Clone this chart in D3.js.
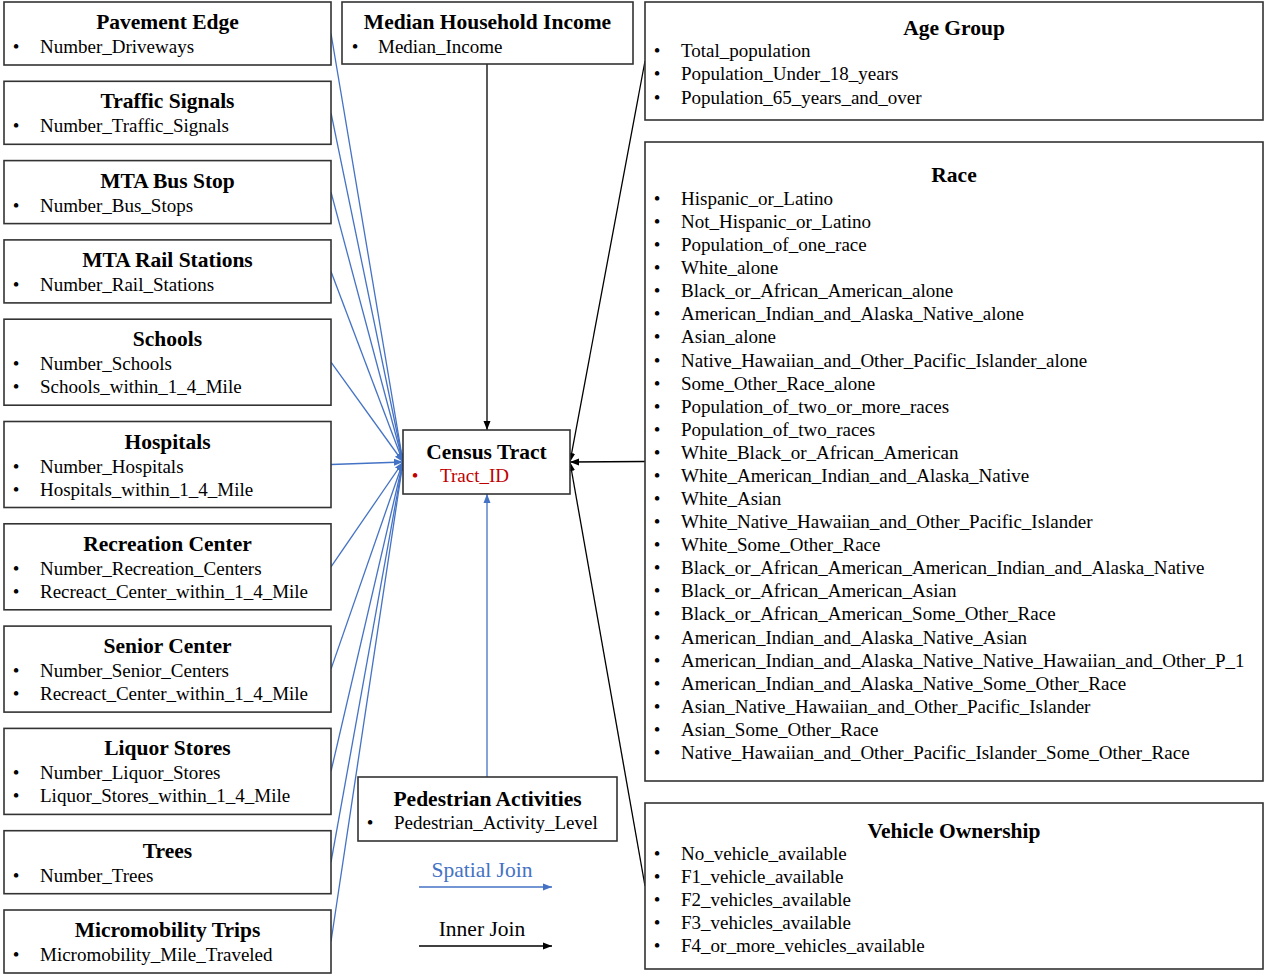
<!DOCTYPE html>
<html>
<head>
<meta charset="utf-8">
<script src="https://cdn.jsdelivr.net/npm/d3@7"></script>
<style>
	body { margin: 0; background: #fff; }
	svg { display: block; font-family: "Liberation Serif", "Times New Roman", serif; }
</style>
</head>
<body>
<svg id="chart" width="1265" height="978"></svg>
<script>
// Source tables joined to the census tract
var leftSources = [
	{ title: "Pavement Edge", fields: ["Number_Driveways"] },
	{ title: "Traffic Signals", fields: ["Number_Traffic_Signals"] },
	{ title: "MTA Bus Stop", fields: ["Number_Bus_Stops"] },
	{ title: "MTA Rail Stations", fields: ["Number_Rail_Stations"] },
	{ title: "Schools", fields: ["Number_Schools", "Schools_within_1_4_Mile"] },
	{ title: "Hospitals", fields: ["Number_Hospitals", "Hospitals_within_1_4_Mile"] },
	{ title: "Recreation Center", fields: ["Number_Recreation_Centers", "Recreact_Center_within_1_4_Mile"] },
	{ title: "Senior Center", fields: ["Number_Senior_Centers", "Recreact_Center_within_1_4_Mile"] },
	{ title: "Liquor Stores", fields: ["Number_Liquor_Stores", "Liquor_Stores_within_1_4_Mile"] },
	{ title: "Trees", fields: ["Number_Trees"] },
	{ title: "Micromobility Trips", fields: ["Micromobility_Mile_Traveled"] }
];

var topSource = { title: "Median Household Income", fields: ["Median_Income"] };
var bottomSource = { title: "Pedestrian Activities", fields: ["Pedestrian_Activity_Level"] };
var centerTable = { title: "Census Tract", fields: ["Tract_ID"] };

var ageFields = ["Total_population", "Population_Under_18_years", "Population_65_years_and_over"];

var raceFields = [
	"Hispanic_or_Latino",
	"Not_Hispanic_or_Latino",
	"Population_of_one_race",
	"White_alone",
	"Black_or_African_American_alone",
	"American_Indian_and_Alaska_Native_alone",
	"Asian_alone",
	"Native_Hawaiian_and_Other_Pacific_Islander_alone",
	"Some_Other_Race_alone",
	"Population_of_two_or_more_races",
	"Population_of_two_races",
	"White_Black_or_African_American",
	"White_American_Indian_and_Alaska_Native",
	"White_Asian",
	"White_Native_Hawaiian_and_Other_Pacific_Islander",
	"White_Some_Other_Race",
	"Black_or_African_American_American_Indian_and_Alaska_Native",
	"Black_or_African_American_Asian",
	"Black_or_African_American_Some_Other_Race",
	"American_Indian_and_Alaska_Native_Asian",
	"American_Indian_and_Alaska_Native_Native_Hawaiian_and_Other_P_1",
	"American_Indian_and_Alaska_Native_Some_Other_Race",
	"Asian_Native_Hawaiian_and_Other_Pacific_Islander",
	"Asian_Some_Other_Race",
	"Native_Hawaiian_and_Other_Pacific_Islander_Some_Other_Race"
];

var vehicleFields = [
	"No_vehicle_available",
	"F1_vehicle_available",
	"F2_vehicles_available",
	"F3_vehicles_available",
	"F4_or_more_vehicles_available"
];

var rightSources = [
	{ title: "Age Group", fields: ageFields },
	{ title: "Race", fields: raceFields },
	{ title: "Vehicle Ownership", fields: vehicleFields }
];

var joinTypes = ["Spatial Join", "Inner Join"];

var BLUE = "#4472c4",
	BLACK = "#000",
	RED = "#c00000",
	BORDER = "#333";

var TITLE_SIZE = 21.5,
	ITEM_SIZE = 19;

var svg = d3.select("#chart");

// Arrow markers
var defs = svg.append("defs");
[["arrow-blue", BLUE], ["arrow-black", BLACK]].forEach(function(m) {
	defs.append("marker")
		.attr("id", m[0])
		.attr("viewBox", "0 -4 9 8")
		.attr("refX", 9)
		.attr("refY", 0)
		.attr("markerUnits", "userSpaceOnUse")
		.attr("markerWidth", 9)
		.attr("markerHeight", 8)
		.attr("orient", "auto")
		.append("path")
		.attr("d", "M0,-3.5L9,0L0,3.5Z")
		.attr("fill", m[1]);
});

var line = d3.line();

// Generic box: border, centred bold title and a bullet list
function drawBox(g, box, o) {
	var grp = g.append("g").attr("transform", "translate(" + box.x + "," + box.y + ")");
	grp.append("rect")
		.attr("width", box.w)
		.attr("height", box.h)
		.attr("fill", "#fff")
		.attr("stroke", BORDER)
		.attr("stroke-width", 1.6);
	grp.append("text")
		.attr("x", box.w / 2)
		.attr("y", o.titleDy)
		.attr("text-anchor", "middle")
		.attr("font-size", TITLE_SIZE)
		.attr("font-weight", "bold")
		.text(box.title);
	var rows = grp.selectAll("g.item")
		.data(box.fields)
		.enter()
		.append("g")
		.attr("class", "item")
		.attr("transform", function(d, i) { return "translate(0," + (o.itemDy + i * o.step) + ")"; })
		.attr("fill", o.color || BLACK);
	rows.append("text")
		.attr("x", o.bulletX)
		.attr("text-anchor", "middle")
		.attr("font-size", ITEM_SIZE)
		.text("\u2022");
	rows.append("text")
		.attr("x", o.textX)
		.attr("font-size", ITEM_SIZE)
		.text(function(d) { return d; });
	return grp;
}

var gLinks = svg.append("g").attr("class", "links");
var gBoxes = svg.append("g").attr("class", "boxes");

// Left column: stacked boxes, heights from the number of fields
var leftX = 4, leftW = 327;
var heights = leftSources.map(function(d) { return 40 + 23 * d.fields.length; });
var gap = (973 - 2 - d3.sum(heights)) / (leftSources.length - 1);
var tops = [2];
heights.forEach(function(h, i) { if (i > 0) tops.push(tops[i - 1] + heights[i - 1] + gap); });

var center = { x: 403, y: 430, w: 167, h: 64 };
var centerLeft = [center.x, center.y + center.h / 2];
var centerRight = [center.x + center.w, center.y + center.h / 2];

leftSources.forEach(function(d, i) {
	var box = { x: leftX, y: tops[i], w: leftW, h: heights[i], title: d.title, fields: d.fields };
	drawBox(gBoxes, box, { titleDy: 27, itemDy: 51, step: 23, bulletX: 12, textX: 36 });
	gLinks.append("path")
		.attr("d", line([[box.x + box.w, box.y + box.h / 2], centerLeft]))
		.attr("fill", "none")
		.attr("stroke", BLUE)
		.attr("stroke-width", 1.3)
		.attr("marker-end", "url(#arrow-blue)");
});

// Median income (top) and pedestrian activities (bottom)
var topBox = Object.assign({ x: 342, y: 2, w: 291, h: 62 }, topSource);
drawBox(gBoxes, topBox, { titleDy: 27, itemDy: 51, step: 23, bulletX: 13, textX: 36 });
gLinks.append("path")
	.attr("d", line([[487, topBox.y + topBox.h], [487, center.y]]))
	.attr("stroke", BLACK)
	.attr("stroke-width", 1.3)
	.attr("marker-end", "url(#arrow-black)");

var bottomBox = Object.assign({ x: 358, y: 777, w: 259, h: 64 }, bottomSource);
drawBox(gBoxes, bottomBox, { titleDy: 29, itemDy: 52, step: 23, bulletX: 12, textX: 36 });
gLinks.append("path")
	.attr("d", line([[487, bottomBox.y], [487, center.y + center.h]]))
	.attr("stroke", BLUE)
	.attr("stroke-width", 1.3)
	.attr("marker-end", "url(#arrow-blue)");

// Right column: census tables
var rightLayout = [
	{ y: 2, h: 118, titleDy: 33, itemDy: 55, step: 23.3 },
	{ y: 142, h: 639, titleDy: 40, itemDy: 63, step: 23.08 },
	{ y: 803, h: 166, titleDy: 35, itemDy: 57, step: 23 }
];

rightSources.forEach(function(d, i) {
	var l = rightLayout[i];
	var box = { x: 645, y: l.y, w: 618, h: l.h, title: d.title, fields: d.fields };
	drawBox(gBoxes, box, { titleDy: l.titleDy, itemDy: l.itemDy, step: l.step, bulletX: 12, textX: 36 });
	gLinks.append("path")
		.attr("d", line([[box.x, box.y + box.h / 2], centerRight]))
		.attr("stroke", BLACK)
		.attr("stroke-width", 1.3)
		.attr("marker-end", "url(#arrow-black)");
});

// Central table
drawBox(gBoxes, Object.assign({}, center, centerTable),
	{ titleDy: 29, itemDy: 52, step: 23, bulletX: 12, textX: 37, color: RED });

// Legend
var gLegend = svg.append("g").attr("class", "legend");
var legendY = d3.scalePoint().domain(joinTypes).range([887, 946]);
var legendColor = d3.scaleOrdinal().domain(joinTypes).range([BLUE, BLACK]);

gLegend.selectAll("text")
	.data(joinTypes)
	.enter()
	.append("text")
	.attr("x", 482)
	.attr("y", function(d) { return legendY(d) - 10; })
	.attr("text-anchor", "middle")
	.attr("font-size", TITLE_SIZE)
	.attr("fill", function(d) { return legendColor(d); })
	.text(function(d) { return d; });

gLegend.selectAll("path")
	.data(joinTypes)
	.enter()
	.append("path")
	.attr("d", function(d) { return line([[419, legendY(d)], [552, legendY(d)]]); })
	.attr("stroke", function(d) { return legendColor(d); })
	.attr("stroke-width", 1.3)
	.attr("marker-end", function(d) { return d === "Spatial Join" ? "url(#arrow-blue)" : "url(#arrow-black)"; });
</script>
</body>
</html>
